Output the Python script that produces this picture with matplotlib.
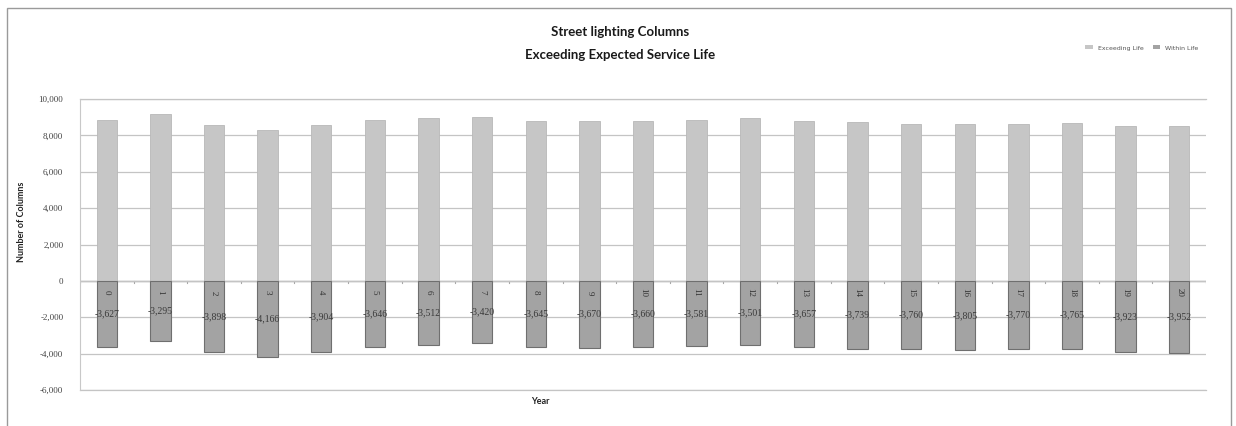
import matplotlib
matplotlib.use("Agg")
import matplotlib.pyplot as plt
from matplotlib.patches import Rectangle, Patch
import numpy as np

years = list(range(21))
year_labels = [str(y) for y in years]
positive_values = [8860, 9170, 8585, 8310, 8548, 8822, 8950, 9025, 8805, 8767, 8767,
                   8840, 8950, 8767, 8712, 8620, 8620, 8620, 8676, 8512, 8493]
negative_values = [-3627, -3295, -3898, -4166, -3904, -3646, -3512, -3420, -3645, -3670, -3660,
                   -3581, -3501, -3657, -3739, -3760, -3805, -3770, -3765, -3923, -3952]
legend_labels = ["Exceeding Life", "Within Life"]
yticks = list(range(-6000, 10001, 2000))

W, H = 1236, 426
fig = plt.figure(figsize=(W / 100, H / 100), dpi=100)
fig.patch.set_facecolor("white")

# outer chart border
fig.patches.append(Rectangle((7 / W, -0.02), 1224 / W, 1 - 8 / H + 0.02,
                             transform=fig.transFigure, fill=False,
                             edgecolor="#9a9a9a", linewidth=1.0))

ax = fig.add_axes([80 / W, 1 - 390 / H, (1206 - 80) / W, (390 - 99) / H])
x = np.arange(len(years))
bw = 0.38
ax.bar(x, positive_values, width=bw, color="#c6c6c6", edgecolor="#b8b8b8",
       linewidth=0.6, zorder=2, label=legend_labels[0])
ax.bar(x, negative_values, width=bw, color="#a3a3a3", edgecolor="#6f6f6f",
       linewidth=0.8, zorder=2, label=legend_labels[1])

ax.set_xlim(-0.5, len(years) - 0.5)
ax.set_ylim(-6000, 10000)
ax.set_yticks(yticks)
ax.set_yticklabels([f"{v:,}" for v in yticks], fontsize=6.5,
                   family="Liberation Serif", color="#444444")
ax.tick_params(axis="y", length=0, pad=12)
ax.set_xticks([])
ax.grid(axis="y", color="#c4c4c4", linewidth=0.9, zorder=0)
for yv in (yticks[0], yticks[-1]):
    ax.axhline(yv, color="#c4c4c4", linewidth=0.9, zorder=0, clip_on=False)
for s in ["top", "right", "bottom"]:
    ax.spines[s].set_visible(False)
ax.spines["left"].set_color("#c8c8c8")
ax.spines["left"].set_linewidth(0.8)

# zero line with small category tick marks
ax.axhline(0, color="#a8a8a8", linewidth=1.0, zorder=1)
for xb in np.arange(-0.5, len(years) + 0.5, 1.0):
    ax.plot([xb, xb], [0, -120], color="#a8a8a8", linewidth=0.8, zorder=1)

for xi, lab, nv in zip(x, year_labels, negative_values):
    ax.text(xi, -650, lab, rotation=270, ha="center", va="center",
            fontsize=6.5, color="#333333", family="Liberation Serif", zorder=3)
    ax.text(xi, nv / 2, f"{nv:,}", ha="center", va="center",
            fontsize=7, color="#3a3a3a", family="Liberation Serif", zorder=3)

fig.text(620 / W, 1 - 32 / H, "Street lighting Columns", ha="center", va="center",
         fontsize=9.5, fontweight="bold", family="Lato", color="#1a1a1a")
fig.text(620 / W, 1 - 55 / H, "Exceeding Expected Service Life", ha="center", va="center",
         fontsize=9.5, fontweight="bold", family="Lato", color="#1a1a1a")

fig.text(22 / W, 1 - 222 / H, "Number of Columns", rotation=90, ha="center", va="center",
         fontsize=6.5, fontweight="bold", family="Lato", color="#222222")
fig.text(540 / W, 1 - 402 / H, "Year", ha="center", va="center",
         fontsize=6.5, fontweight="bold", family="Lato", color="#222222")

handles = [Patch(facecolor="#c6c6c6"), Patch(facecolor="#a3a3a3")]
fig.legend(handles, legend_labels, loc="center", bbox_to_anchor=(1142 / W, 1 - 48 / H),
           ncol=2, frameon=False, fontsize=4.5, handlelength=1.2, handleheight=0.6,
           columnspacing=1.5, labelcolor="#555555")

fig.savefig("out.png", dpi=100)
